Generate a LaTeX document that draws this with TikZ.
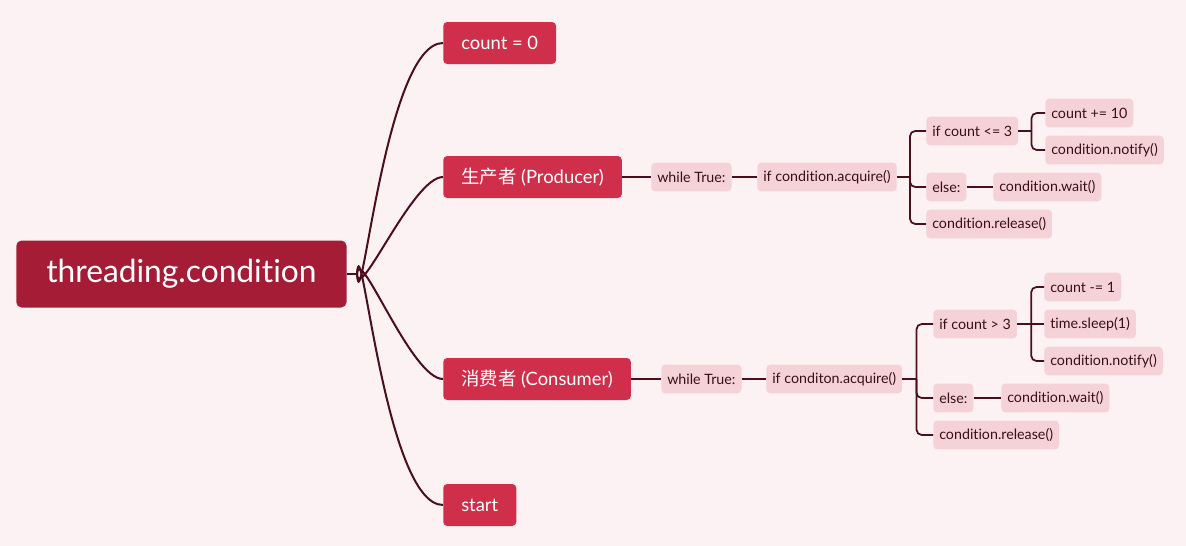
\documentclass[tikz,border=0pt]{standalone}
\usepackage{fontspec}
\setmainfont{Lato}[Ligatures={NoCommon}]
\newfontfamily\cjk{Noto Sans CJK SC}

\definecolor{bgpink}{HTML}{FCF1F3}
\definecolor{rootred}{HTML}{A51C37}
\definecolor{mainred}{HTML}{D02F4C}
\definecolor{subpink}{HTML}{F4D2D8}
\definecolor{linedark}{HTML}{4A0F1A}
\definecolor{textdark}{HTML}{3A0E18}

\tikzset{
	rootbox/.style={fill=rootred, text=white, rounded corners=4pt, anchor=west,
		font=\fontsize{23.8}{28}\selectfont, minimum height=50.25pt, inner xsep=22.5pt},
	mainbox/.style={fill=mainred, text=white, rounded corners=3pt, anchor=west,
		font=\fontsize{13.8}{16}\selectfont, minimum height=31.5pt, inner xsep=13.5pt},
	subbox/.style={fill=subpink, text=textdark, rounded corners=3pt, anchor=west,
		font=\fontsize{10.7}{13}\selectfont, minimum height=21.5pt, inner xsep=4.5pt},
	branch/.style={draw=linedark, line width=1.5pt},
	twig/.style={draw=linedark, line width=1.3pt, rounded corners=4pt},
}

\begin{document}
\begin{tikzpicture}[x=0.75pt,y=0.75pt,yscale=-1,xscale=1]
		% background
		\fill[bgpink] (0,0) rectangle (1186,546);
		\useasboundingbox (0,0) rectangle (1186,546);

		% Root
		\node[rootbox] (root) at (16,274) {threading.condition};
		\coordinate (hub) at (357,274);

		% Main topics
		\node[mainbox] (cnt) at (443,43) {count = 0};
		\node[mainbox] (prod) at (443,177) {{\cjk 生产者} (Producer)};
		\node[mainbox] (cons) at (443,379) {{\cjk 消费者} (Consumer)};
		\node[mainbox] (start) at (443,505) {start};

		% Producer
		\node[subbox] (pwhile) at (651,177) {while True:};
		\node[subbox] (pacq) at (757,177) {if condition.acquire()};
		\node[subbox] (pif) at (926,131) {if count <= 3};
		\node[subbox] (padd) at (1045,113) {count += 10};
		\node[subbox] (pnotify) at (1045,150) {condition.notify()};
		\node[subbox] (pelse) at (926,187) {else:};
		\node[subbox] (pwait) at (993,187) {condition.wait()};
		\node[subbox] (prel) at (926,224) {condition.release()};

		% Consumer
		\node[subbox] (cwhile) at (661,379) {while True:};
		\node[subbox] (cacq) at (766,379) {if conditon.acquire()};
		\node[subbox] (cif) at (933,324) {if count > 3};
		\node[subbox] (csub) at (1044,287) {count -= 1};
		\node[subbox] (csleep) at (1044,324) {time.sleep(1)};
		\node[subbox] (cnotify) at (1044,361) {condition.notify()};
		\node[subbox] (celse) at (933,398) {else:};
		\node[subbox] (cwait) at (1001,398) {condition.wait()};
		\node[subbox] (crel) at (933,435) {condition.release()};

		% Connectors: root to main topics
		\draw[branch] (root.east) -- (hub);
		\draw[branch] (hub) to[out=86,in=180,looseness=0.6] (cnt.west);
		\draw[branch] (hub) to[out=86,in=180,looseness=0.6] (prod.west);
		\draw[branch] (hub) to[out=-86,in=180,looseness=0.6] (cons.west);
		\draw[branch] (hub) to[out=-86,in=180,looseness=0.6] (start.west);

		% Connectors: producer
		\draw[twig] (prod.east) -- (pwhile.west);
		\draw[twig] (pwhile.east) -- (pacq.west);
		\draw[twig] (pacq.east) -- ++(13,0) coordinate (pj);
		\draw[twig] (pj) |- (pif.west);
		\draw[twig] (pj) |- (pelse.west);
		\draw[twig] (pj) |- (prel.west);
		\draw[twig] (pif.east) -- ++(13,0) coordinate (pk);
		\draw[twig] (pk) |- (padd.west);
		\draw[twig] (pk) |- (pnotify.west);
		\draw[twig] (pelse.east) -- (pwait.west);

		% Connectors: consumer
		\draw[twig] (cons.east) -- (cwhile.west);
		\draw[twig] (cwhile.east) -- (cacq.west);
		\draw[twig] (cacq.east) -- ++(14,0) coordinate (cj);
		\draw[twig] (cj) |- (cif.west);
		\draw[twig] (cj) |- (celse.west);
		\draw[twig] (cj) |- (crel.west);
		\draw[twig] (cif.east) -- ++(14,0) coordinate (ck);
		\draw[twig] (ck) |- (csub.west);
		\draw[twig] (ck) -- (csleep.west);
		\draw[twig] (ck) |- (cnotify.west);
		\draw[twig] (celse.east) -- (cwait.west);
	\end{tikzpicture}
\end{document}
